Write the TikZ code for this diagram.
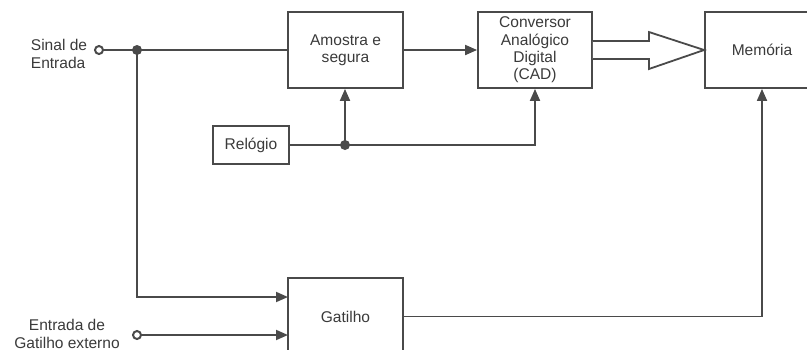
\documentclass[tikz,border=0pt]{standalone}
\usepackage{fontspec}
\setmainfont{Liberation Sans}
\usetikzlibrary{arrows.meta,calc}
\definecolor{wire}{HTML}{4A4A4A}
\definecolor{ink}{HTML}{3A3A3A}
\begin{document}
\begin{tikzpicture}[x=1bp,y=-1bp,
  font=\fontsize{15.6}{17.5}\selectfont,
  every node/.style={text=ink},
  block/.style={draw=wire,line width=1.8bp,rectangle,align=center,inner sep=0pt},
  wire/.style={draw=wire,line width=1.8bp},
  arr/.style={wire,-{Triangle[length=12bp,width=10bp]}},
  dot/.style={circle,fill=wire,inner sep=0pt,minimum size=10bp},
  port/.style={circle,draw=wire,line width=2bp,fill=white,inner sep=0pt,minimum size=8bp},
  lbl/.style={inner sep=0pt}]
\useasboundingbox (0,0) rectangle (807,349);
\begin{scope}
\clip (0,0) rectangle (807,349);

% blocks
\node[block,minimum width=115bp,minimum height=76bp] (sh)  at (345.5,50) {Amostra e\\segura};
\node[block,minimum width=114bp,minimum height=76bp] (cad) at (535,50) {Conversor\\Analógico\\Digital\\(CAD)};
\node[block,minimum width=114bp,minimum height=76bp] (mem) at (762,50) {Memória};
\node[block,minimum width=76bp,minimum height=38bp] (clk) at (251,145) {Relógio};
\node[block,minimum width=115bp,minimum height=77bp] (gat) at (345.5,316.5) {Gatilho};

% input labels
\node[lbl,align=left] (lin1) at (59,54) {Sinal de\\Entrada};
\node[lbl,align=center] (lin2) at (67,334) {Entrada de\\Gatilho externo};

% junctions and ports
\node[port] (in1) at (99,50) {};
\node[port] (in2) at (137,335) {};
\coordinate (j1) at (137,50);
\coordinate (j2) at (345,145);
\coordinate (g1) at (288,297);
\coordinate (g2) at (288,335);

% signal path
\draw[wire] (in1) -- (j1) -- (sh.west);
\draw[arr] (sh.east) -- (cad.west);

% parallel data bus to memory
\draw[wire,fill=white,line join=miter]
  ($(cad.east)+(0,-9)$) -- ++(56,0) -- ++(0,-9) -- (mem.west)
  -- ($(cad.east)+(56,19)$) -- ++(0,-10) -- ($(cad.east)+(0,9)$);

% clock distribution
\draw[wire] (clk.east) -- (j2);
\draw[arr] (j2) -- (j2 |- sh.south);
\draw[arr] (j2) -| (cad.south);

% trigger
\draw[arr] (j1) |- (g1);
\draw[arr] (in2) -- (g2);
\draw[arr] (gat.east) -| (mem.south);

\node[dot] (d1) at (j1) {};
\node[dot] (d2) at (j2) {};
\end{scope}
\end{tikzpicture}
\end{document}
